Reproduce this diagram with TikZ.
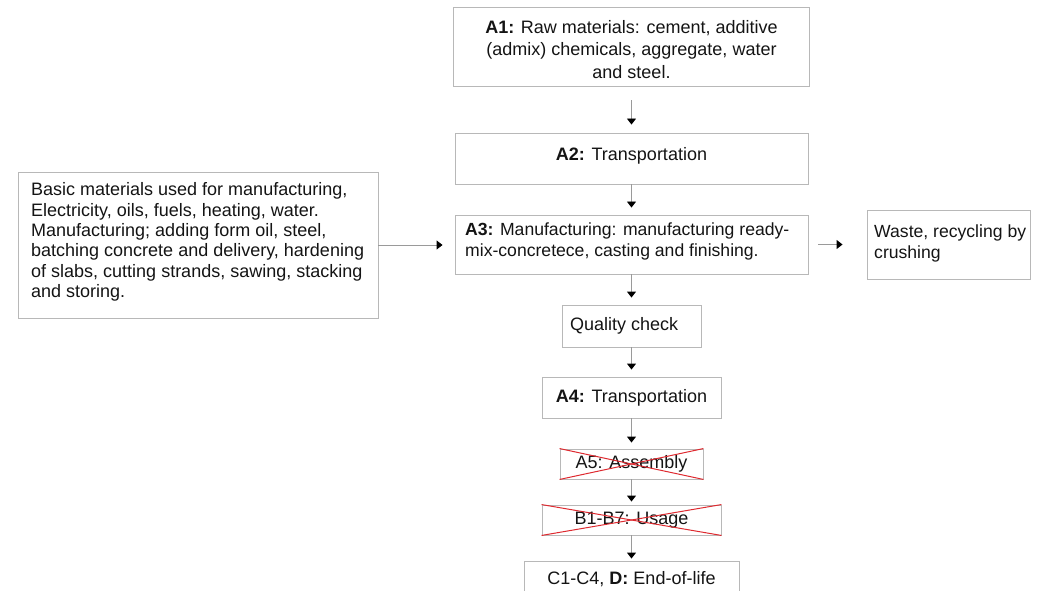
\documentclass[tikz,border=0pt]{standalone}
\usepackage{fontspec}
\setmainfont{Liberation Sans}
\usetikzlibrary{arrows.meta,calc}
\definecolor{boxgray}{HTML}{B8B8B8}
\definecolor{linegray}{HTML}{9A9A9A}
\definecolor{txtcol}{HTML}{141414}
\definecolor{xred}{HTML}{DE2A30}
\begin{document}
\begin{tikzpicture}[x=1pt,y=-1pt,
  box/.style={draw=boxgray,line width=0.9pt,inner sep=0pt,text=txtcol,
    font=\fontsize{18}{21}\selectfont},
  txt/.style={inner sep=0pt,text=txtcol,font=\fontsize{18}{21}\selectfont},
  conn/.style={draw=linegray,line width=0.9pt,-{Triangle[length=6pt,width=9pt,color=black]}},
  crossline/.style={draw=xred,line width=1pt}]
\useasboundingbox (0,0) rectangle (1037,591);

% boxes
\node[box, minimum width=356pt, minimum height=79pt] (a1) at (631.5,46.5) {};
\node[txt, align=center, font=\fontsize{18}{22.5}\selectfont] (a1t) at (631.5,49.5)
  {\textbf{A1:} Raw materials: cement, additive\\(admix) chemicals, aggregate, water\\and steel.};
\node[box, minimum width=353pt, minimum height=51pt] (a2) at (631.5,158.5) {};
\node[txt] (a2t) at (631.5,155.5) {\textbf{A2:} Transportation};
\node[box, minimum width=360pt, minimum height=146pt] (lb) at (198,245) {};
\node[txt, align=left, anchor=west, font=\fontsize{18}{20.4}\selectfont] (lbt) at (31,242)
  {Basic materials used for manufacturing,\\Electricity, oils, fuels, heating, water.\\Manufacturing; adding form oil, steel,\\batching concrete and delivery, hardening\\of slabs, cutting strands, sawing, stacking\\and storing.};
\node[box, minimum width=353pt, minimum height=59pt] (a3) at (631.5,244.5) {};
\node[txt, align=left, anchor=west, font=\fontsize{17.6}{21.5}\selectfont] (a3t) at (465,241.5)
  {\textbf{A3:} Manufacturing: manufacturing ready-\\mix-concretece, casting and finishing.};
\node[box, minimum width=163pt, minimum height=69pt] (ws) at (948.5,244.5) {};
\node[txt, align=left, anchor=west, font=\fontsize{17.6}{21.5}\selectfont] (wst) at (874,243.5)
  {Waste, recycling by\\crushing};
\node[box, minimum width=139pt, minimum height=42pt] (qc) at (631.5,326) {};
\node[txt, anchor=west] (qct) at (570,325.5) {Quality check};
\node[box, minimum width=179pt, minimum height=41pt] (a4) at (631.5,397.5) {\textbf{A4:} Transportation};
\node[box, minimum width=143pt, minimum height=30pt] (a5) at (631.5,464) {A5: Assembly};
\node[box, minimum width=179pt, minimum height=30pt] (b) at (631.5,520) {B1-B7: Usage};
\node[box, minimum width=215pt, minimum height=36pt] (c) at (631.5,579) {C1-C4, \textbf{D:} End-of-life};

\draw[crossline] (a5.north west) -- (a5.south east);
\draw[crossline] (a5.south west) -- (a5.north east);
\draw[crossline] (b.north west) -- (b.south east);
\draw[crossline] (b.south west) -- (b.north east);

% connectors
\draw[conn, shorten <=14pt, shorten >=8pt] (a1.south) -- (a2.north);
\draw[conn, shorten >=7pt] (a2.south) -- (a3.north);
\draw[conn, shorten >=7pt] (a3.south) -- (qc.north);
\draw[conn, shorten >=7pt] (qc.south) -- (a4.north);
\draw[conn, shorten >=6pt] (a4.south) -- (a5.north);
\draw[conn, shorten >=3pt] (a5.south) -- (b.north);
\draw[conn, shorten >=2pt] (b.south) -- (c.north);
\draw[conn, shorten >=12pt] (lb.east) -- (lb.east -| a3.west);
\draw[conn, shorten <=10pt, shorten >=24pt] (a3.east |- ws.west) -- (ws.west);
\end{tikzpicture}
\end{document}
